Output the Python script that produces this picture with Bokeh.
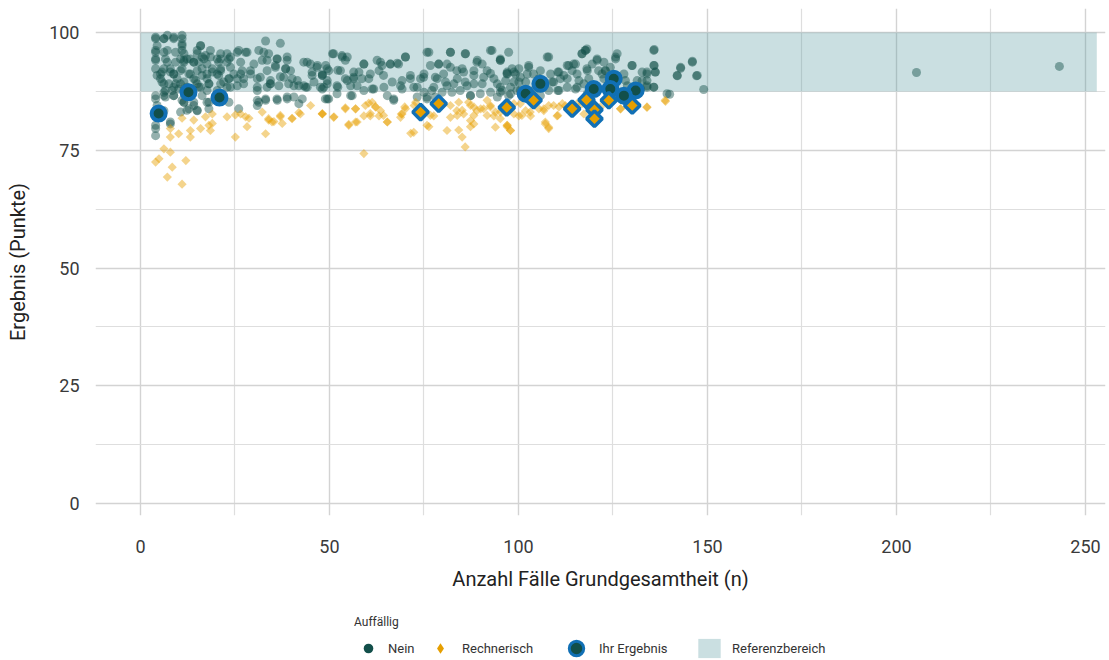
import math
from bokeh.plotting import figure
from bokeh.layouts import column
from bokeh.models import Range1d, FixedTicker, Legend, LegendItem
from bokeh.embed import file_html
from bokeh.resources import INLINE

# ---------------- data ----------------
nein_x = [4.0, 6.2, 7.1, 8.8, 11.0, 11.0, 15.9, 4.4, 4.0, 6.2, 9.3, 11.5, 15.0, 17.2, 21.2, 22.9, 18.5, 16.3,
          4.0, 7.1, 9.3, 11.5, 13.2, 14.1, 17.6, 20.7, 23.8, 26.0, 27.8, 33.1, 37.0, 31.3, 32.2, 30.0, 33.5,
          36.2, 38.8, 35.7, 38.4, 39.7, 43.2, 45.0, 46.7, 45.4, 48.1, 49.4, 5.7, 7.9, 10.6, 15.0, 19.0, 21.2,
          23.8, 26.9, 29.1, 33.5, 4.4, 8.8, 12.8, 16.3, 20.7, 23.4, 27.3, 31.7, 34.4, 37.9, 41.5, 43.2, 45.9,
          48.5, 5.7, 7.5, 9.3, 11.5, 14.6, 18.1, 22.0, 25.6, 30.9, 34.4, 36.6, 39.2, 40.6, 44.1, 48.1, 6.2,
          8.4, 10.1, 13.7, 15.4, 17.6, 20.3, 23.8, 4.0, 6.6, 8.8, 11.5, 14.1, 16.3, 18.1, 30.9, 33.1, 36.2,
          38.8, 40.6, 42.8, 49.4, 11.0, 12.8, 15.0, 18.1, 10.6, 26.0, 4.0, 4.0, 4.0, 7.9, 6.2,
          51.1, 53.3, 54.2, 54.7, 59.1, 56.4, 52.9, 49.0, 49.8, 48.1, 49.4, 52.0, 54.7, 56.4, 58.6, 60.8, 63.1,
          63.5, 66.1, 68.3, 70.1, 71.4, 69.2, 66.6, 64.4, 61.7, 59.1, 57.3, 55.6, 52.0, 49.8, 65.3, 67.0, 69.2,
          72.3, 74.1, 75.0, 75.8, 76.7, 78.9, 81.1, 82.0, 85.9, 89.0, 90.4, 93.0, 95.2, 91.7, 88.2, 85.5, 83.7,
          80.2, 78.0, 80.7, 82.9, 85.9, 88.2, 90.8, 93.5, 97.0, 98.8, 95.2, 92.6, 89.9, 87.3, 84.6, 82.4, 79.8,
          77.1, 75.0, 73.2, 75.8, 78.0, 94.4, 97.9, 99.6, 47.6,
          95.2, 97.0, 96.6, 98.3, 99.2, 100.1, 97.9, 95.7, 102.7, 102.3, 101.9, 104.0, 105.8, 107.6, 108.5,
          109.3, 110.7, 111.1, 112.9, 114.2, 114.6, 115.5, 116.8, 117.7, 118.2, 118.6, 119.5, 120.8, 121.2,
          122.6, 123.0, 125.7, 126.1, 127.9, 130.1, 134.0, 135.8, 135.8, 136.2, 134.0, 135.8, 139.3, 142.9,
          142.0, 146.0, 147.3, 117.3, 115.5, 112.9, 110.7, 108.0, 105.8, 104.0, 100.5, 97.4, 122.6, 123.9,
          118.2, 128.8, 131.4, 134.0, 132.3, 124.3, 122.1, 112.0, 105.4, 100.5, 103.2,
          149.0, 205.3, 243.1,
          4.0, 6.2, 8.8, 11.0, 11.0, 15.9, 4.0, 7.1, 11.0, 15.0, 18.5, 4.0, 6.6, 10.6, 12.3, 16.8, 20.3, 21.2,
          23.4, 25.6, 28.2, 32.6, 11.5, 14.1, 15.4, 22.9, 26.5, 4.0, 6.2, 7.9, 11.0, 16.3, 19.0, 21.2, 5.3,
          8.8, 13.2, 17.6, 20.3, 24.7, 26.5, 29.1, 5.3, 9.7, 14.1, 17.6, 23.4, 25.6, 30.9, 6.2, 10.6, 15.0,
          18.1, 21.2, 27.3, 8.8, 12.3, 15.9, 22.9, 30.9, 33.5, 6.6, 11.5, 4.0, 6.2, 8.8, 11.5, 14.1, 17.6,
          23.4, 31.3, 4.4, 30.9, 12.3, 15.0, 7.9,
          33.9, 36.1, 38.8, 35.7, 38.4, 37.0, 40.1, 34.3, 41.9, 44.1, 46.8, 45.4, 48.1, 49.4, 50.8, 53.4, 52.2,
          54.2, 56.4, 55.6, 57.8, 59.1, 60.4, 62.6, 63.9, 66.1, 64.3, 61.3, 56.0, 36.1, 38.8, 41.9, 48.9, 52.2,
          43.7, 33.1,
          70.1, 67.9, 76.3, 78.9, 82.0, 86.0, 82.0, 85.1, 89.1, 92.6, 95.2, 97.4, 74.9, 71.4, 78.5, 83.8, 88.2,
          92.6, 97.0, 68.8, 73.2, 77.6, 81.1, 86.4, 90.4, 94.4, 98.8, 67.0, 75.8, 87.3, 95.2,
          117.7, 118.1, 116.8, 108.0, 113.3, 115.1, 120.8, 125.7, 130.0, 102.7, 100.1, 110.4, 118.1, 123.0,
          132.7, 105.4, 108.9, 112.9, 116.0, 128.3, 101.8, 110.4, 115.1,
          135.9, 135.9, 134.0, 136.2, 142.9, 142.0, 146.0, 147.1, 140.0, 134.0, 135.8, 132.7]
nein_y = [99.0, 98.7, 99.4, 99.0, 99.4, 97.2, 97.2, 97.2, 95.8, 95.8, 95.8, 95.5, 95.5, 95.1, 95.5, 95.5, 94.8, 94.8,
          94.1, 93.7, 93.7, 94.1, 94.4, 93.7, 93.3, 93.7, 94.8, 96.2, 95.8, 98.2, 97.7, 96.2, 94.1, 93.3, 94.1,
          94.4, 94.1, 92.6, 92.3, 91.9, 93.7, 93.3, 92.6, 91.6, 91.2, 92.3, 91.6, 91.6, 91.9, 91.9, 91.6, 91.9,
          92.6, 91.9, 91.9, 91.9, 90.9, 91.2, 91.2, 90.9, 90.9, 90.2, 90.2, 90.5, 89.8, 90.5, 89.8, 88.7, 89.5,
          88.4, 89.5, 89.1, 89.1, 89.5, 89.8, 89.1, 89.5, 88.7, 87.7, 89.1, 88.7, 89.1, 88.7, 88.4, 88.0, 87.3,
          87.7, 88.0, 88.0, 88.4, 87.7, 87.7, 88.4, 85.9, 86.3, 86.6, 85.2, 84.5, 86.6, 85.2, 85.6, 85.9, 85.6,
          85.9, 86.3, 85.9, 85.9, 85.6, 83.8, 83.4, 83.8, 83.1, 83.8, 80.3, 79.6, 78.1, 80.6, 83.4,
          95.5, 95.1, 94.1, 94.8, 93.3, 91.6, 91.9, 93.0, 91.9, 90.9, 89.1, 88.7, 89.8, 90.5, 90.2, 91.2, 91.9,
          93.7, 93.3, 93.3, 94.8, 90.9, 89.8, 89.5, 88.4, 88.0, 87.7, 88.7, 86.6, 87.0, 85.9, 86.6, 85.6, 88.0,
          88.4, 90.2, 91.2, 95.8, 93.0, 93.3, 93.3, 95.8, 95.5, 93.7, 93.3, 96.2, 94.1, 91.9, 91.9, 91.6, 91.9,
          91.2, 90.5, 89.5, 89.1, 89.5, 89.1, 90.5, 90.2, 91.2, 91.6, 88.4, 87.3, 87.0, 86.6, 87.7, 87.3, 87.3,
          87.7, 87.3, 86.3, 85.9, 86.3, 86.3, 87.0, 87.7, 88.4,
          94.1, 91.6, 89.8, 92.3, 91.2, 89.5, 88.4, 87.7, 93.0, 91.2, 89.5, 91.2, 91.9, 94.8, 91.2,
          89.5, 91.6, 90.2, 93.0, 91.9, 93.3, 91.2, 95.5, 96.2, 91.9, 90.2, 93.3, 94.1, 91.9,
          93.7, 91.9, 94.4, 95.5, 91.2, 93.0, 91.6, 96.2, 93.0, 91.6, 88.7, 88.4, 87.0, 92.6,
          90.9, 93.7, 90.9, 89.1, 88.4, 88.4, 87.7, 87.7, 86.6, 87.7, 87.7, 86.6, 90.2, 89.1,
          87.0, 88.7, 89.8, 89.8, 88.0, 92.6, 91.2, 90.9, 89.5, 90.5, 87.0,
          87.9, 91.5, 92.8,
          98.7, 98.7, 98.7, 98.7, 97.6, 97.2, 96.2, 96.2, 96.2, 96.2, 96.2, 94.4, 94.4, 94.4, 94.4, 94.4, 94.4, 94.4,
          94.4, 95.8, 95.8, 95.8, 93.7, 93.7, 93.7, 93.7, 93.7, 92.3, 92.3, 92.3, 92.3, 92.3, 92.3, 92.3, 91.2,
          91.2, 91.2, 91.2, 91.2, 91.2, 91.2, 91.2, 90.2, 90.2, 90.2, 90.2, 90.2, 90.2, 90.2, 89.1, 89.1, 89.1,
          89.1, 89.1, 89.1, 88.4, 88.4, 88.4, 88.4, 88.4, 88.4, 87.7, 87.7, 86.6, 86.6, 86.6, 85.2, 85.2, 85.2,
          85.2, 85.2, 84.5, 84.5, 83.5, 83.5, 81.0,
          95.5, 94.4, 94.8, 93.0, 92.3, 90.6, 90.2, 89.1, 88.7, 93.7, 93.0, 90.9, 90.9, 89.8, 95.5, 94.8, 92.0,
          90.2, 90.2, 88.7, 91.6, 93.3, 90.2, 94.1, 93.0, 93.3, 90.9, 88.0, 86.6, 85.9, 86.3, 84.9, 85.9, 88.4,
          88.4, 85.6,
          94.8, 93.5, 95.8, 93.3, 95.8, 95.5, 92.6, 92.3, 94.1, 96.2, 94.4, 95.8, 90.5, 90.2, 90.2, 90.2, 90.9,
          91.3, 91.3, 88.7, 88.4, 88.4, 88.7, 88.7, 89.1, 89.1, 89.5, 85.9, 86.3, 86.6, 87.3,
          96.2, 96.5, 95.5, 94.8, 93.0, 93.3, 94.4, 94.8, 93.0, 92.6, 92.3, 91.6, 92.3, 91.9,
          91.6, 90.2, 89.5, 90.2, 89.8, 89.8, 87.3, 87.7, 88.0,
          96.4, 93.0, 91.2, 91.6, 92.4, 90.8, 93.9, 90.8, 86.9, 88.4, 88.4, 89.8]

rech_x = [11.0, 7.9, 10.1, 13.2, 13.2, 15.9, 14.1, 17.2, 19.0, 18.1, 18.5, 22.9, 25.1, 26.5, 27.8, 28.7, 28.2,
          25.1, 32.2, 33.9, 35.3, 37.0, 37.5, 40.1, 42.3, 45.0, 48.1, 33.1, 7.9, 6.2, 7.9, 4.9, 4.0, 8.4, 12.0,
          7.1, 11.0, 19.0,
          48.1, 51.1, 54.2, 56.9, 57.3, 55.1, 59.1, 60.8, 61.3, 62.2, 63.5, 63.1, 65.3, 59.1, 68.8, 70.1, 69.2,
          72.3, 72.8, 75.8, 77.6, 81.1, 82.0, 83.7, 84.2, 85.5, 86.8, 88.2, 89.0, 90.8, 92.6, 87.3, 88.2, 85.1,
          85.9, 91.7, 93.5, 93.9, 97.0, 97.9, 95.2, 98.8,
          97.0, 97.9, 98.8, 100.1, 101.9, 103.2, 105.4, 106.7, 107.1, 108.0, 109.3, 110.7, 111.6, 110.2, 112.4,
          100.5, 115.5, 117.3, 121.7, 127.0, 134.0, 138.8, 96.6,
          33.9, 37.0, 40.1, 41.9, 48.1, 51.2, 54.2, 56.9, 59.5, 60.4, 62.2, 60.8, 64.3, 65.3, 55.1, 56.9, 34.8,
          69.9, 69.0, 72.4, 76.7, 82.0, 83.8, 85.1, 87.3, 88.2, 90.0, 91.7, 92.6, 93.9, 95.2, 87.3, 76.3, 71.5,
          97.0, 84.2,
          100.9, 103.1, 108.0, 110.4, 106.7, 107.1, 108.0, 116.8, 127.0, 138.9, 134.0]
rech_y = [81.8, 79.6, 78.5, 79.2, 77.8, 79.6, 81.4, 82.1, 82.7, 80.3, 79.2, 82.1, 82.5, 82.7, 82.1, 81.8, 80.0,
          77.8, 83.1, 81.4, 81.1, 82.1, 80.7, 81.8, 82.7, 84.5, 82.7, 78.5, 77.8, 75.3, 74.6, 73.2, 72.5, 71.4, 72.8,
          69.3, 67.8, 80.7,
          82.7, 82.0, 83.8, 83.8, 81.0, 80.3, 82.3, 82.3, 85.2, 84.2, 83.4, 82.3, 81.0, 74.3, 82.0, 83.8, 82.7,
          78.8, 85.2, 80.3, 82.3, 79.2, 82.0, 83.4, 85.2, 82.7, 85.2, 84.2, 83.4, 83.8, 84.5, 81.3, 80.6, 77.8,
          75.7, 85.6, 82.3, 79.9, 80.3, 79.2, 83.1, 84.9,
          80.3, 79.2, 82.7, 82.3, 83.4, 82.3, 83.8, 83.4, 81.0, 79.9, 84.5, 84.2, 84.9, 82.3, 84.5,
          84.9, 84.9, 82.7, 84.2, 83.8, 84.2, 85.6, 83.1,
          81.7, 82.4, 81.7, 83.0, 82.8, 82.1, 84.0, 83.8, 84.5, 85.0, 84.2, 82.8, 82.4, 81.0, 80.5, 81.0, 81.0,
          84.2, 82.7, 84.5, 82.4, 84.5, 82.4, 83.5, 84.5, 82.4, 83.8, 82.4, 84.2, 83.1, 81.7, 80.0, 80.0, 78.6,
          80.0, 79.3,
          82.4, 83.1, 84.5, 82.4, 83.8, 80.6, 79.6, 84.9, 83.8, 85.4, 84.1]

ihr_nein_x = [4.8, 12.7, 20.9, 101.9, 105.8, 119.9, 125.2, 124.3, 131.0, 127.9]
ihr_nein_y = [82.8, 87.3, 86.2, 87.0, 89.1, 88.0, 90.2, 88.0, 87.7, 86.6]
ihr_rech_x = [74.1, 78.9, 96.9, 104.0, 114.2, 118.0, 120.1, 120.1, 123.9, 130.1]
ihr_rech_y = [83.1, 84.9, 84.1, 85.6, 83.8, 85.7, 83.6, 81.7, 85.6, 84.5]

ref_lower = [87.5]
ref_upper = [100.0]
ref_left = [0.0]
ref_right = [253.0]

x_ticks = [0, 50, 100, 150, 200, 250]
x_minor = [25, 75, 125, 175, 225]
y_ticks = [0, 25, 50, 75, 100]
y_minor = [12.5, 37.5, 62.5, 87.5]

legend_title = "Auffällig"
legend_labels = ["Nein", "Rechnerisch", "Ihr Ergebnis", "Referenzbereich"]
NAN = float("nan")

# ---------------- styles ----------------
TEAL = "#124f4a"
ORANGE = "#e69f00"
BLUE = "#1170b5"
FONT = "Roboto"

p = figure(width=1109, height=600, output_backend="svg", toolbar_location=None,
           x_range=Range1d(-11.9, 255.3), y_range=Range1d(-2.55, 105.1),
           min_border_left=95, min_border_right=4, min_border_top=8, min_border_bottom=85)
p.outline_line_color = None

xt = FixedTicker(ticks=x_ticks, minor_ticks=x_minor)
yt = FixedTicker(ticks=y_ticks, minor_ticks=y_minor)
p.xaxis.ticker = xt
p.yaxis.ticker = yt
p.xgrid.ticker = xt
p.ygrid.ticker = yt

for g in (p.xgrid, p.ygrid):
    g.grid_line_color = "#d3d3d3"
    g.grid_line_width = 1.4
    g.minor_grid_line_color = "#dedede"
    g.minor_grid_line_width = 1.2

for ax in (p.xaxis, p.yaxis):
    ax.axis_line_color = None
    ax.major_tick_line_color = None
    ax.minor_tick_line_color = None
    ax.major_label_text_font = FONT
    ax.major_label_text_font_size = "18px"
    ax.major_label_text_color = "#3a3a3a"
    ax.axis_label_text_font = FONT
    ax.axis_label_text_font_size = "20px"
    ax.axis_label_text_font_style = "normal"
    ax.axis_label_text_color = "#222222"

p.xaxis.axis_label = "Anzahl Fälle Grundgesamtheit (n)"
p.yaxis.axis_label = "Ergebnis (Punkte)"
p.xaxis.major_label_standoff = 18
p.xaxis.axis_label_standoff = 11
p.yaxis.major_label_standoff = 10
p.yaxis.axis_label_standoff = 16

# reference band
p.quad(left=ref_left, right=ref_right, bottom=ref_lower, top=ref_upper,
       fill_color="#4e949b", fill_alpha=0.3, line_color=None)

# background points
p.scatter(nein_x, nein_y, marker="circle", size=9, fill_color=TEAL, fill_alpha=0.45, line_color=None)
p.scatter(rech_x, rech_y, marker="square", angle=math.pi / 4, size=6.5,
          fill_color=ORANGE, fill_alpha=0.45, line_color=None)

# highlighted points
p.scatter(ihr_nein_x, ihr_nein_y, marker="circle", size=14, fill_color=TEAL,
          line_color=BLUE, line_width=4)
p.scatter(ihr_rech_x, ihr_rech_y, marker="square", angle=math.pi / 4, size=11,
          fill_color=ORANGE, line_color=BLUE, line_width=3.5)

# ---------------- legend strip ----------------
lg = figure(width=1109, height=60, output_backend="svg", toolbar_location=None,
            x_range=Range1d(0, 1), y_range=Range1d(0, 1), x_axis_type=None, y_axis_type=None,
            min_border=0)
lg.outline_line_color = None
lg.xgrid.visible = False
lg.ygrid.visible = False

l1 = lg.scatter(x=[NAN], y=[NAN], marker="circle", fill_color=TEAL, line_color=None)
l2 = lg.scatter(x=[NAN], y=[NAN], marker="diamond", fill_color=ORANGE, line_color=None)
l3 = lg.scatter(x=[NAN], y=[NAN], marker="circle", fill_color=TEAL, line_color=BLUE, line_width=3)
l4 = lg.quad(left=[NAN], right=[NAN], bottom=[NAN], top=[NAN], fill_color="#cadfe1", line_color=None)

common = dict(orientation="horizontal", label_text_font=FONT, label_text_font_size="13px",
              label_text_color="#333333", border_line_color=None, background_fill_alpha=0, margin=0)

# locations are relative to the (aligned) frame, whose left edge is at x=95 on the page
leg1 = Legend(items=[LegendItem(label=legend_labels[0], renderers=[l1])], location=(259, 0),
              title=legend_title, title_text_font=FONT, title_text_font_size="12px",
              title_text_font_style="normal", title_text_color="#333333", title_standoff=7,
              glyph_width=28, glyph_height=24, label_standoff=6, padding=0, **common)
leg2 = Legend(items=[LegendItem(label=legend_labels[1], renderers=[l2])], location=(331, -1),
              glyph_width=28, glyph_height=26, label_standoff=8, padding=0, **common)
leg3 = Legend(items=[LegendItem(label=legend_labels[2], renderers=[l3])], location=(463, -6),
              glyph_width=36, glyph_height=36, label_standoff=5, padding=0, **common)
leg4 = Legend(items=[LegendItem(label=legend_labels[3], renderers=[l4])], location=(600, 0),
              glyph_width=28, glyph_height=24, label_standoff=9, padding=0, **common)
for L in (leg1, leg2, leg3, leg4):
    lg.add_layout(L, "center")

layout = column(p, lg, spacing=0)
open("out.html", "w").write(file_html(layout, INLINE))
